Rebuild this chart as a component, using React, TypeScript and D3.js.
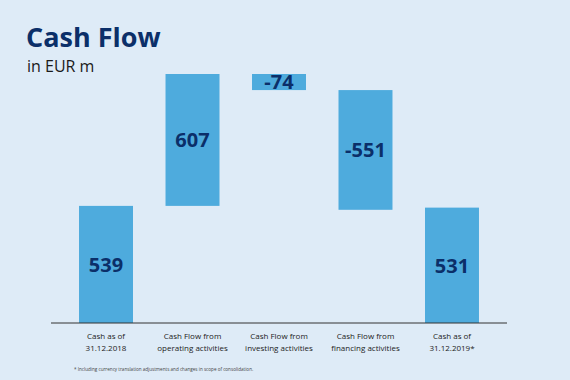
import React from "react";
import * as d3 from "d3";

const categories = ["c2018", "operating", "investing", "financing", "c2019"];
const labelLines = [
  ["Cash as of", "31.12.2018"],
  ["Cash Flow from", "operating activities"],
  ["Cash Flow from", "investing activities"],
  ["Cash Flow from", "financing activities"],
  ["Cash as of", "31.12.2019*"],
];
const values = [539, 607, -74, -551, 531];
const isTotal = [true, false, false, false, true];

const W = 570;
const H = 380;
const BG = "#deebf7";
const BAR = "#4eabdd";
const NAVY = "#0b2f69";
const FONT = "'Open Sans', 'Noto Sans', sans-serif";

export default function App() {
  // waterfall start/end
  let running = 0;
  const bars = values.map((v, i) => {
    let y0: number, y1: number;
    if (isTotal[i]) {
      y0 = 0;
      y1 = v;
      running = v;
    } else {
      y0 = running;
      y1 = running + v;
      running = y1;
    }
    return { key: categories[i], v, lo: Math.min(y0, y1), hi: Math.max(y0, y1) };
  });
  const maxV = d3.max(bars, (b) => b.hi) as number;

  const x = d3
    .scaleBand<string>()
    .domain(categories)
    .range([51, 507])
    .paddingInner(0.376)
    .paddingOuter(0.324);
  const y = d3.scaleLinear().domain([0, maxV]).range([323, 74]);

  return (
    <svg
      width={W}
      height={H}
      style={{ position: "absolute", left: 0, top: 0, display: "block" }}
    >
      <rect x={0} y={0} width={W} height={H} fill={BG} />
      <text x={26} y={47} fill={NAVY} fontFamily={FONT} fontWeight={700} fontSize={27}>
        Cash Flow
      </text>
      <text x={27} y={72} fill="#1a1a1a" fontFamily={FONT} fontSize={16}>
        in EUR m
      </text>
      {bars.map((b, i) => {
        const bx = x(b.key) as number;
        const top = y(b.hi);
        const bot = y(b.lo);
        return (
          <g key={b.key}>
            <rect x={bx} y={top} width={x.bandwidth()} height={bot - top} fill={BAR} />
            <text
              x={bx + x.bandwidth() / 2}
              y={(top + bot) / 2}
              dy="0.36em"
              textAnchor="middle"
              fill={NAVY}
              fontFamily={FONT}
              fontWeight={700}
              fontSize={20}
            >
              {b.v}
            </text>
            {labelLines[i].map((l, j) => (
              <text
                key={j}
                x={bx + x.bandwidth() / 2}
                y={339 + j * 12}
                textAnchor="middle"
                fill="#222"
                fontFamily={FONT}
                fontSize={8}
              >
                {l}
              </text>
            ))}
          </g>
        );
      })}
      <line x1={51} x2={507} y1={323} y2={323} stroke="#333" strokeWidth={1} />
      <text x={74} y={371} fill="#444" fontFamily={FONT} fontSize={4.6}>
        * Including currency translation adjustments and changes in scope of consolidation.
      </text>
    </svg>
  );
}
